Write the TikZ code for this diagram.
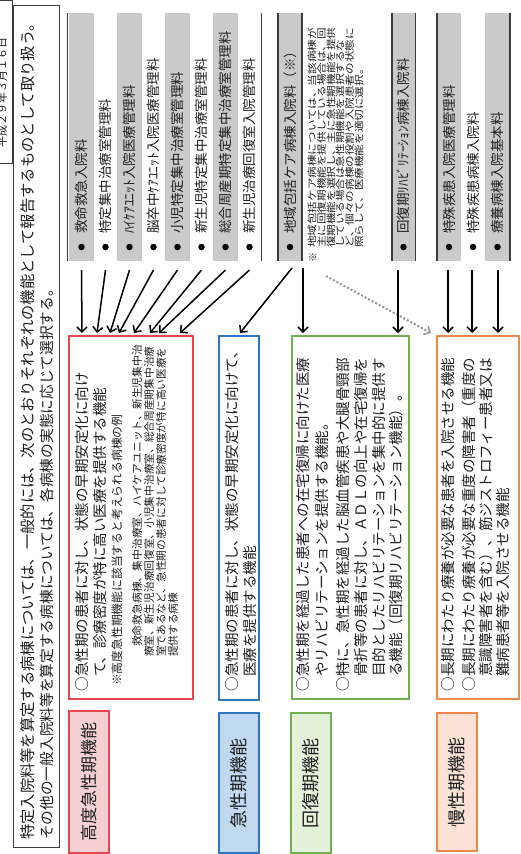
\documentclass[tikz,border=0pt]{standalone}
\usepackage{fontspec}
\newfontfamily\jp{Noto Sans CJK JP}
\usetikzlibrary{arrows.meta}
\definecolor{rline}{RGB}{232,72,80}
\definecolor{rfill}{RGB}{246,208,210}
\definecolor{bline}{RGB}{46,117,196}
\definecolor{bfill}{RGB}{192,216,240}
\definecolor{gline}{RGB}{112,176,80}
\definecolor{gfill}{RGB}{228,241,219}
\definecolor{oline}{RGB}{240,135,75}
\definecolor{ofill}{RGB}{250,226,214}
\definecolor{barc}{RGB}{202,202,202}
\definecolor{ink}{RGB}{30,30,30}
\definecolor{rulec}{RGB}{60,60,60}
\definecolor{dotc}{RGB}{150,150,150}
\tikzset{
  rtext/.style={rotate=90,anchor=west,inner sep=0pt,text=ink},
  ctext/.style={rotate=90,anchor=center,inner sep=0pt,text=ink},
  boxn/.style={rectangle,anchor=north west,inner sep=0pt,line width=1.8pt},
  labn/.style={rectangle,anchor=north west,inner sep=0pt,line width=2.2pt},
  barn/.style={rectangle,anchor=north west,inner sep=0pt,fill=barc,draw=none},
  rulel/.style={draw=rulec,line width=1.1pt},
  arr/.style={draw=black,line width=1.5pt,-{Straight Barb[length=5pt,width=10pt,line width=1.5pt]}},
  dotarr/.style={draw=dotc,line width=2pt,dotted,-{Straight Barb[length=5pt,width=10pt,line width=1.5pt]}},
  bul/.style={circle,fill=black,inner sep=0pt,minimum size=6.5pt}
}
\newcommand\jtxt[5]{\node[rtext,font=\jp\fontsize{#4}{#4}\selectfont] (#1) at (#2,#3) {#5};}
\newcommand\jtxts[5]{\node[rtext,font=\jp\fontsize{9.5}{9.5}\selectfont] (#1) at (#2,#3) {\scalebox{#4}[1]{#5}};}
\newcommand\jcirc[4]{\node[ctext,font=\jp\fontsize{#4}{#4}\selectfont] (#1) at (#2,#3) {○};}
\newcommand\listrow[4]{%
  \node[bul] (#1b) at (#2,247) {};
  \node[rtext,font=\jp\fontsize{13.5}{13.5}\selectfont] (#1) at (#2,234) {#3};
  \coordinate (#1s) at (#4,270);}
\begin{document}
\begin{tikzpicture}[x=1pt,y=-1pt]
\useasboundingbox (0,0) rectangle (520,854);
\fill[white] (0,0) rectangle (520,854);

% date box (cut at the edge)
\node[rectangle,draw=rulec,line width=0.8pt,anchor=north west,minimum width=16pt,minimum height=163pt,inner sep=0pt] (datebox) at (-4,0) {};
\node[ctext,font=\jp\fontsize{11}{11}\selectfont] (datet) at (2,92) {平成２９年３月１６日};

% title box
\node[rectangle,draw=rulec,line width=0.9pt,anchor=north west,minimum width=46pt,minimum height=842pt,inner sep=0pt] (titlebox) at (13,5) {};
\jtxt{title1}{28}{840}{15.3}{特定入院料等を算定する病棟については、一般的には、次のとおりそれぞれの機能として報告するものとして取り扱う。}
\jtxt{title2}{47}{840}{14.7}{その他の一般入院料等を算定する病棟については、各病棟の実態に応じて選択する。}

% ---------- right-hand lists (top of image) ----------
\node[barn,minimum width=25pt,minimum height=248pt] (g1) at (69,13) {};
\node[barn,minimum width=25pt,minimum height=248pt] (g3) at (117,13) {};
\node[barn,minimum width=25pt,minimum height=248pt] (g5) at (165,13) {};
\node[barn,minimum width=25pt,minimum height=248pt] (g7) at (213,13) {};
\node[barn,minimum width=24pt,minimum height=248pt] (g9) at (278,13) {};
\node[barn,minimum width=23pt,minimum height=248pt] (g10) at (392,13) {};
\node[barn,minimum width=24pt,minimum height=248pt] (g11) at (437,13) {};
\node[barn,minimum width=25pt,minimum height=248pt] (g13) at (485,13) {};

\coordinate (ra1) at (67.5,13); \coordinate (ra2) at (67.5,261);
\coordinate (rb1) at (261.5,13); \coordinate (rb2) at (261.5,261);
\coordinate (rc1) at (278,13); \coordinate (rc2) at (278,261);
\coordinate (rd1) at (302,13); \coordinate (rd2) at (302,261);
\coordinate (re1) at (392,13); \coordinate (re2) at (392,261);
\coordinate (rf1) at (415.5,13); \coordinate (rf2) at (415.5,261);
\coordinate (rg1) at (437,13); \coordinate (rg2) at (437,261);
\coordinate (rh1) at (510,13); \coordinate (rh2) at (510,261);
\draw[rulel] (ra1) -- (ra2); \draw[rulel] (rb1) -- (rb2);
\draw[rulel] (rc1) -- (rc2); \draw[rulel] (rd1) -- (rd2);
\draw[rulel] (re1) -- (re2); \draw[rulel] (rf1) -- (rf2);
\draw[rulel] (rg1) -- (rg2); \draw[rulel] (rh1) -- (rh2);

\listrow{h1}{81.5}{救命救急入院料}{81.5}
\listrow{h2}{105.5}{特定集中治療室管理料}{105.5}
\listrow{h3}{129.5}{ﾊｲｹｱﾕﾆｯﾄ入院医療管理料}{129.5}
\listrow{h4}{153.5}{脳卒中ｹｱﾕﾆｯﾄ入院医療管理料}{153.5}
\listrow{h5}{177.5}{小児特定集中治療室管理料}{177.5}
\listrow{h6}{201.5}{新生児特定集中治療室管理料}{201.5}
\listrow{h7}{225.5}{総合周産期特定集中治療室管理料}{225.5}
\listrow{h8}{249.5}{新生児治療回復室入院管理料}{249.5}
\listrow{k1}{290}{地域包括ケア病棟入院料（※）}{290}
\listrow{k2}{403.5}{回復期ﾘﾊﾋﾞﾘﾃｰｼｮﾝ病棟入院料}{398}
\listrow{m1}{449}{特殊疾患入院医療管理料}{448}
\listrow{m2}{473}{特殊疾患病棟入院料}{472}
\listrow{m3}{497.5}{療養病棟入院基本料}{498}

% note under 地域包括ケア
\node[ctext,font=\jp\fontsize{10}{10}\selectfont] (kn0) at (313,257) {※};
\jtxts{kn1}{312}{248}{1.22}{地域包括ケア病棟については、当該病棟が}
\jtxts{kn2}{321.5}{248}{1.22}{主に回復期機能を提供している場合は、回}
\jtxts{kn3}{331}{248}{1.22}{復期機能を選択し、主に急性期機能を提供}
\jtxts{kn4}{340}{248}{1.22}{している場合は急性期機能を選択するな}
\jtxts{kn5}{349.5}{248}{1.22}{ど、個々の病棟の役割や入院患者の状態に}
\jtxts{kn6}{359}{248}{1.22}{照らして、医療機能を適切に選択。}

% ---------- middle description boxes ----------
\node[boxn,draw=rline,minimum width=124pt,minimum height=363pt] (redbox) at (68,335) {};
\node[boxn,draw=bline,minimum width=40pt,minimum height=364pt] (bluebox) at (218,335) {};
\node[boxn,draw=gline,minimum width=117pt,minimum height=363pt] (greenbox) at (291,335) {};
\node[boxn,draw=oline,minimum width=82pt,minimum height=363pt] (orangebox) at (436,335) {};

\jcirc{rc}{82}{684}{14.5}
\jtxt{r1}{82}{677}{14.5}{急性期の患者に対し、状態の早期安定化に向け}
\jtxt{r2}{100}{677}{14.5}{て、診療密度が特に高い医療を提供する機能}
\jtxt{rn1}{117}{686}{11.8}{※高度急性期機能に該当すると考えられる病棟の例}
\jtxt{rn2}{137}{647}{10.8}{救命救急病棟、集中治療室、ハイケアユニット、新生児集中治}
\jtxt{rn3}{149}{657}{10.7}{療室、新生児治療回復室、小児集中治療室、総合周産期集中治療}
\jtxt{rn4}{161}{657}{10.7}{室であるなど、急性期の患者に対して診療密度が特に高い医療を}
\jtxt{rn5}{173}{657}{10.7}{提供する病棟}

\jcirc{bc}{232}{684}{14.5}
\jtxt{b1}{232}{677}{14.5}{急性期の患者に対し、状態の早期安定化に向けて、}
\jtxt{b2}{250}{677}{14.5}{医療を提供する機能}

\jcirc{gc1}{303}{684}{14.5}
\jtxt{gt1}{303}{677}{14.5}{急性期を経過した患者への在宅復帰に向けた医療}
\jtxt{gt2}{322}{677}{14.5}{やリハビリテーションを提供する機能。}
\jcirc{gc2}{343}{684}{14.5}
\jtxt{gt3}{343}{677}{14.5}{特に、急性期を経過した脳血管疾患や大腿骨頸部}
\jtxt{gt4}{361}{677}{14.5}{骨折等の患者に対し、ＡＤＬの向上や在宅復帰を}
\jtxt{gt5}{378.5}{677}{14.5}{目的としたリハビリテーションを集中的に提供す}
\jtxt{gt6}{396}{677}{14.5}{る機能（回復期リハビリテーション機能）。}

\jcirc{oc1}{448}{684}{14.5}
\jtxt{ot1}{448}{677}{14.5}{長期にわたり療養が必要な患者を入院させる機能}
\jcirc{oc2}{469}{684}{14.5}
\jtxt{ot2}{469}{677}{14.5}{長期にわたり療養が必要な重度の障害者（重度の}
\jtxt{ot3}{486}{677}{14.5}{意識障害者を含む）、筋ジストロフィー患者又は}
\jtxt{ot4}{503}{677}{14.5}{難病患者等を入院させる機能}

% ---------- function labels (bottom of image) ----------
\node[labn,draw=rline,fill=rfill,minimum width=40pt,minimum height=142pt] (lab1) at (68,710) {};
\node[labn,draw=bline,fill=bfill,minimum width=40pt,minimum height=140pt] (lab2) at (218,712) {};
\node[labn,draw=gline,fill=gfill,minimum width=40pt,minimum height=140pt] (lab3) at (290,712) {};
\node[labn,draw=oline,fill=ofill,minimum width=40pt,minimum height=138pt] (lab4) at (436,712) {};
\node[ctext,font=\jp\fontsize{17}{17}\selectfont] (lab1t) at (lab1.center) {高度急性期機能};
\node[ctext,font=\jp\fontsize{18}{18}\selectfont] (lab2t) at (lab2.center) {急性期機能};
\node[ctext,font=\jp\fontsize{18}{18}\selectfont] (lab3t) at (lab3.center) {回復期機能};
\node[ctext,font=\jp\fontsize{18}{18}\selectfont] (lab4t) at (lab4.center) {慢性期機能};

% ---------- arrows ----------
\coordinate (e1) at (82,333);
\coordinate (e2) at (97,333);
\coordinate (e3) at (110,333);
\coordinate (e4) at (119,333);
\coordinate (e5) at (134,333);
\coordinate (e6) at (150,333);
\coordinate (e7) at (159,333);
\coordinate (e8) at (180,333);
\draw[arr] (h1s) -- (e1);
\draw[arr] (h2s) -- (e2);
\draw[arr] (h3s) -- (e3);
\draw[arr] (h4s) -- (e4);
\draw[arr] (h5s) -- (e5);
\draw[arr] (h6s) -- (e6);
\draw[arr] (h7s) -- (e7);
\draw[arr] (h8s) -- (e8);

\coordinate (kbs) at (292,268);
\coordinate (kbe) at (240,333);
\draw[arr] (kbs) -- (kbe);
\coordinate (kgs) at (303,268);
\coordinate (kge) at (303,333);
\draw[arr] (kgs) -- (kge);
\coordinate (kds) at (326,276);
\coordinate (kde) at (431,333);
\draw[dotarr] (kds) -- (kde);

\coordinate (k2e) at (398,333);
\draw[arr] (k2s) -- (k2e);
\coordinate (m1e) at (448,333);
\coordinate (m2e) at (472,333);
\coordinate (m3e) at (498,333);
\draw[arr] (m1s) -- (m1e);
\draw[arr] (m2s) -- (m2e);
\draw[arr] (m3s) -- (m3e);
\end{tikzpicture}
\end{document}
